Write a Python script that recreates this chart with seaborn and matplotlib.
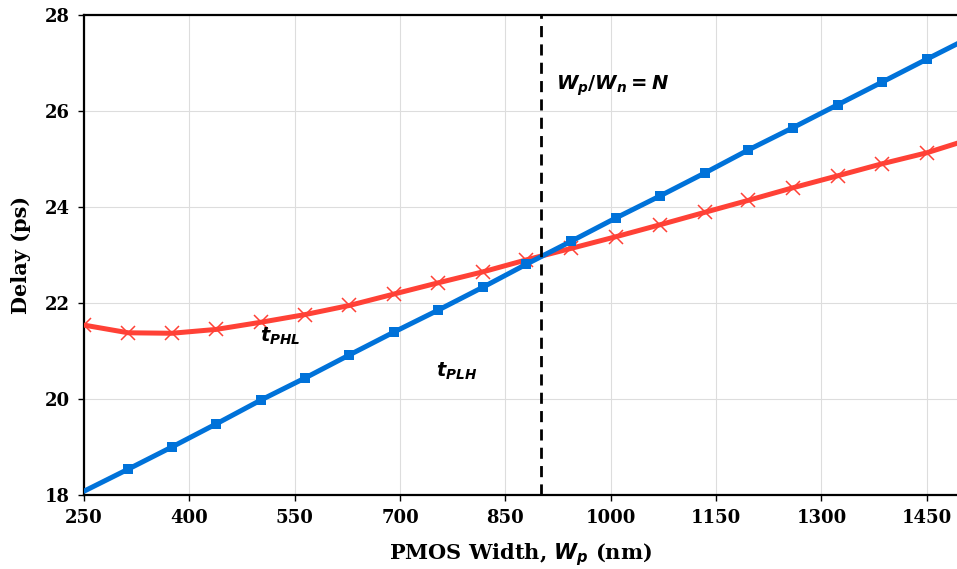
import numpy as np
import pandas as pd
import matplotlib
matplotlib.use("Agg")
import matplotlib.pyplot as plt
import seaborn as sns

# PMOS width sweep (nm) and the two propagation delays (ps)
width_nm = [250, 313, 375, 438, 502, 565, 628, 692, 754, 818, 880,
            944, 1007, 1070, 1134, 1196, 1259, 1323, 1386, 1450, 1500]
t_plh = [18.08, 18.54, 19.00, 19.48, 19.98, 20.44, 20.92, 21.40, 21.85, 22.33, 22.81,
         23.29, 23.77, 24.23, 24.71, 25.19, 25.65, 26.13, 26.60, 27.08, 27.45]
t_phl = [21.54, 21.38, 21.37, 21.45, 21.60, 21.76, 21.95, 22.19, 22.42, 22.65, 22.90,
         23.14, 23.38, 23.63, 23.89, 24.14, 24.40, 24.65, 24.90, 25.13, 25.36]

ratio_point = 900
x_ticks = [250, 400, 550, 700, 850, 1000, 1150, 1300, 1450]
y_ticks = [18, 20, 22, 24, 26, 28]

df = pd.DataFrame({"width": width_nm, "tplh": t_plh, "tphl": t_phl})

sns.set_style("white")
plt.rcParams["font.family"] = ["DejaVu Serif"]
plt.rcParams["font.weight"] = "bold"
plt.rcParams["text.color"] = "black"
plt.rcParams["axes.labelcolor"] = "black"
plt.rcParams["xtick.color"] = "black"
plt.rcParams["ytick.color"] = "black"
plt.rcParams["mathtext.fontset"] = "custom"
plt.rcParams["mathtext.it"] = "DejaVu Sans:italic:bold"
plt.rcParams["mathtext.rm"] = "DejaVu Sans:bold"
plt.rcParams["mathtext.bf"] = "DejaVu Sans:bold"

fig = plt.figure(figsize=(9.57, 5.69), dpi=100)
ax = fig.add_axes([0.0878, 0.130, 0.9122, 0.8436])

red = "#FF4136"
blue = "#0072D9"

sns.lineplot(data=df, x="width", y="tphl", ax=ax, color=red, lw=3.6,
             marker="x", markersize=10, markeredgewidth=1.1, markeredgecolor=red,
             markevery=list(range(0, 20)), zorder=3, sort=False)
sns.lineplot(data=df, x="width", y="tplh", ax=ax, color=blue, lw=3.6,
             marker="s", markersize=7, markeredgewidth=0, markevery=list(range(1, 20)),
             zorder=4, sort=False)

ax.axvline(ratio_point, color="black", lw=2, ls=(0, (4, 2.6)), zorder=5)

ax.text(922, 26.52, r"$W_p/W_n = N$", fontsize=14, va="center", ha="left", color="black")
ax.text(500, 21.31, r"$t_{PHL}$", fontsize=14, va="center", ha="left", color="black")
ax.text(751, 20.58, r"$t_{PLH}$", fontsize=14, va="center", ha="left", color="black")

ax.set_xlim(250, 1493)
ax.set_ylim(18, 28)
ax.set_xticks(x_ticks)
ax.set_yticks(y_ticks)
ax.grid(True, color="#dddddd", lw=0.8)
ax.set_axisbelow(True)

for side in ["left", "top", "bottom"]:
    ax.spines[side].set_visible(True)
    ax.spines[side].set_color("black")
    ax.spines[side].set_linewidth(1.6)
ax.spines["right"].set_visible(False)

ax.tick_params(axis="both", direction="out", length=4, width=1, color="black",
               labelcolor="black", labelsize=13, pad=6, bottom=True, left=True)
for lab in ax.get_xticklabels() + ax.get_yticklabels():
    lab.set_fontweight("bold")

ax.set_xlabel(r"PMOS Width, $W_p$ (nm)", fontsize=15, fontweight="bold", labelpad=10,
              color="black")
ax.set_ylabel("Delay (ps)", fontsize=15, fontweight="bold", labelpad=10, color="black")

fig.savefig("out.png", dpi=100)
